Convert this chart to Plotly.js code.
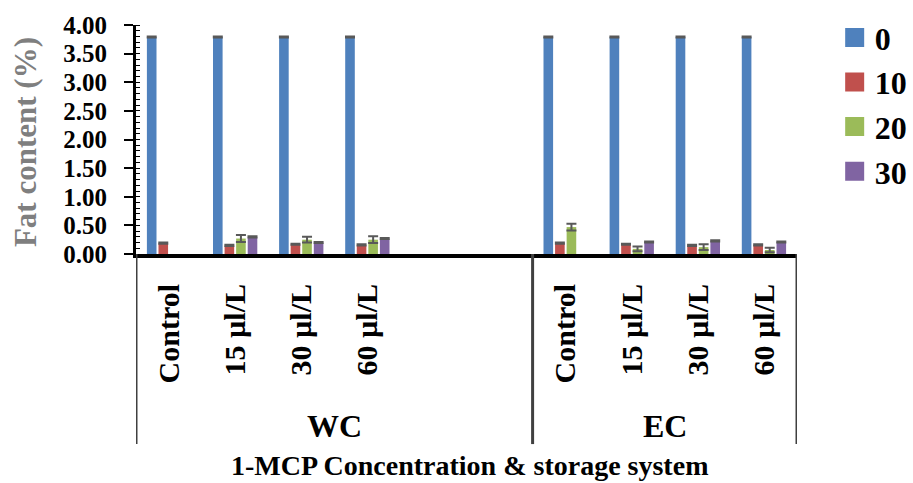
<!DOCTYPE html>
<html>
<head>
<meta charset="utf-8">
<script src="https://cdn.plot.ly/plotly-3.0.1.min.js"></script>
<style>
  html, body { margin: 0; padding: 0; background: #ffffff; }
  #chart { width: 913px; height: 483px; }
</style>
</head>
<body>
<div id="chart"></div>
<script>
// Storage systems and 1-MCP treatments
const systems = ['WC', 'EC'];
const treatments = ['Control', '15 µl/L', '30 µl/L', '60 µl/L'];
// Empty category slots that follow each storage system on the axis
const trailingSlots = [2, 0];

// Storage days (series) and their colours
const days = ['0', '10', '20', '30'];
const dayColors = ['#4F81BD', '#C0504D', '#9BBB59', '#8064A2'];

// Fat content (%) per treatment: WC Control..60, then EC Control..60
const fat0  = [3.79, 3.79, 3.79, 3.79, 3.79, 3.79, 3.79, 3.79];
const fat10 = [0.19, 0.15, 0.17, 0.16, 0.19, 0.17, 0.15, 0.16];
const fat20 = [null, 0.27, 0.25, 0.25, 0.47, 0.09, 0.12, 0.07];
const fat30 = [null, 0.30, 0.20, 0.27, null, 0.21, 0.23, 0.21];

// Standard errors
const err0  = [0.01, 0.01, 0.01, 0.01, 0.01, 0.01, 0.01, 0.01];
const err10 = [0.01, 0.01, 0.01, 0.01, 0.01, 0.01, 0.01, 0.01];
const err20 = [0, 0.06, 0.05, 0.06, 0.06, 0.04, 0.05, 0.04];
const err30 = [0, 0.01, 0.01, 0.01, 0, 0.01, 0.01, 0.01];

const series = [fat0, fat10, fat20, fat30];
const errors = [err0, err10, err20, err30];

// Slot index of every treatment on the category axis, plus system spans
const slotX = [];
const tickText = [];
const spans = [];
let slot = 0;
systems.forEach((s, gi) => {
  const start = slot;
  treatments.forEach(t => { slotX.push(slot); tickText.push(t); slot += 1; });
  slot += trailingSlots[gi];
  spans.push({ name: s, from: start - 0.5, to: slot - 0.5 });
});

const FONT = 'Liberation Serif';

const traces = [];
series.forEach((vals, i) => {
  traces.push({
    type: 'bar',
    name: days[i],
    legendgroup: days[i],
    showlegend: false,
    x: slotX,
    y: vals,
    marker: { color: dayColors[i] },
    error_y: { type: 'data', array: errors[i], visible: true,
               color: '#595959', thickness: 2, width: 5 },
    hoverinfo: 'y'
  });
});
// Legend entries with larger square swatches
days.forEach((d, i) => {
  traces.push({
    type: 'scatter', mode: 'markers', name: d, legendgroup: d,
    x: [null], y: [null],
    marker: { symbol: 'square', size: 16, color: dayColors[i],
              line: { color: dayColors[i], width: 3 } },
    hoverinfo: 'skip'
  });
});

const shapes = [];
const bounds = [spans[0].from];
spans.forEach(sp => bounds.push(sp.to));
bounds.forEach(b => {
  shapes.push({ type: 'line', xref: 'x', yref: 'paper', x0: b, x1: b,
                y0: 0, y1: -0.83, line: { color: '#404040', width: 3 } });
});

const annotations = spans.map(sp => ({
  xref: 'x', yref: 'paper', x: (sp.from + sp.to) / 2, y: -0.75,
  xanchor: 'center', yanchor: 'middle', showarrow: false, text: sp.name,
  font: { family: FONT, size: 32, color: '#000000', weight: 'bold' }
}));
annotations.push({
  xref: 'paper', yref: 'paper', x: 0.505, y: -0.925,
  xanchor: 'center', yanchor: 'middle', showarrow: false,
  text: '1-MCP Concentration & storage system',
  font: { family: FONT, size: 28, color: '#000000', weight: 'bold' }
});
annotations.push({
  xref: 'paper', yref: 'paper', x: -0.167, y: 0.487,
  xanchor: 'center', yanchor: 'middle', showarrow: false, textangle: -90,
  text: 'Fat content (%)',
  font: { family: FONT, size: 31, color: '#7F7F7F', weight: 'bold' }
});

const layout = {
  width: 913, height: 483,
  margin: { l: 136, r: 116, t: 25, b: 229, autoexpand: false },
  paper_bgcolor: '#ffffff', plot_bgcolor: '#ffffff',
  barmode: 'group', bargap: 0.3, bargroupgap: 0.17,
  showlegend: true,
  legend: {
    x: 1.057, y: 1.065, xanchor: 'left', yanchor: 'top',
    font: { family: FONT, size: 32, color: '#000000', weight: 'bold' },
    itemsizing: 'trace', tracegroupgap: 0, bgcolor: 'rgba(0,0,0,0)'
  },
  xaxis: {
    type: 'linear', range: [spans[0].from, spans[spans.length - 1].to],
    tickmode: 'array', tickvals: slotX, ticktext: tickText, tickangle: -90,
    tickfont: { family: FONT, size: 30, color: '#000000', weight: 'bold' },
    ticks: '', ticklabelstandoff: 14,
    showline: true, linecolor: '#000000', linewidth: 4,
    showgrid: false, zeroline: false, fixedrange: true
  },
  yaxis: {
    range: [0, 4], dtick: 0.5, tick0: 0, tickformat: '.2f',
    tickfont: { family: FONT, size: 25, color: '#000000', weight: 'bold' },
    ticks: 'outside', ticklen: 9, tickwidth: 2, tickcolor: '#000000',
    ticklabelstandoff: 12,
    minor: { dtick: 0.1, ticks: 'inside', ticklen: 4, tickwidth: 1, tickcolor: '#000000' },
    showline: true, linecolor: '#000000', linewidth: 3,
    showgrid: false, zeroline: false, fixedrange: true
  },
  shapes: shapes,
  annotations: annotations
};

Plotly.newPlot('chart', traces, layout, { displayModeBar: false, staticPlot: true });
</script>
</body>
</html>
